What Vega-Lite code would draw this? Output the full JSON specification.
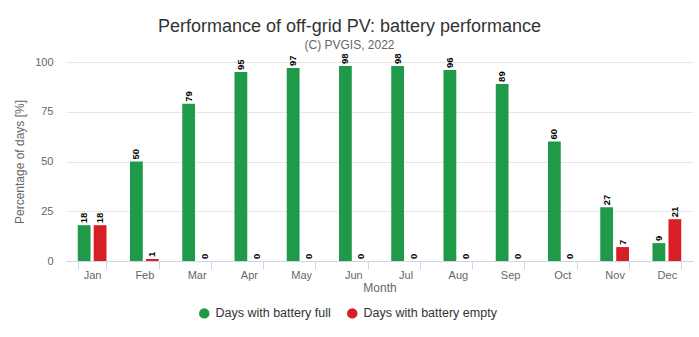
{
  "$schema": "https://vega.github.io/schema/vega-lite/v6.json",
  "width": 627,
  "height": 199,
  "autosize": {"type": "none"},
  "padding": {"left": 66, "top": 62, "right": 6, "bottom": 76},
  "background": "white",
  "config": {
    "view": {"stroke": null},
    "font": "Liberation Sans"
  },
  "title": {
    "text": "Performance of off-grid PV: battery performance",
    "subtitle": "(C) PVGIS, 2022",
    "fontSize": 18,
    "fontWeight": "normal",
    "color": "#333333",
    "subtitleFontSize": 12,
    "subtitleColor": "#666666",
    "subtitlePadding": 4,
    "anchor": "middle",
    "dx": -30,
    "offset": 2
  },
  "data": {
    "values": [
      {"month": "Jan", "series": "Days with battery full", "value": 18},
      {"month": "Feb", "series": "Days with battery full", "value": 50},
      {"month": "Mar", "series": "Days with battery full", "value": 79},
      {"month": "Apr", "series": "Days with battery full", "value": 95},
      {"month": "May", "series": "Days with battery full", "value": 97},
      {"month": "Jun", "series": "Days with battery full", "value": 98},
      {"month": "Jul", "series": "Days with battery full", "value": 98},
      {"month": "Aug", "series": "Days with battery full", "value": 96},
      {"month": "Sep", "series": "Days with battery full", "value": 89},
      {"month": "Oct", "series": "Days with battery full", "value": 60},
      {"month": "Nov", "series": "Days with battery full", "value": 27},
      {"month": "Dec", "series": "Days with battery full", "value": 9},
      {"month": "Jan", "series": "Days with battery empty", "value": 18},
      {"month": "Feb", "series": "Days with battery empty", "value": 1},
      {"month": "Mar", "series": "Days with battery empty", "value": 0},
      {"month": "Apr", "series": "Days with battery empty", "value": 0},
      {"month": "May", "series": "Days with battery empty", "value": 0},
      {"month": "Jun", "series": "Days with battery empty", "value": 0},
      {"month": "Jul", "series": "Days with battery empty", "value": 0},
      {"month": "Aug", "series": "Days with battery empty", "value": 0},
      {"month": "Sep", "series": "Days with battery empty", "value": 0},
      {"month": "Oct", "series": "Days with battery empty", "value": 0},
      {"month": "Nov", "series": "Days with battery empty", "value": 7},
      {"month": "Dec", "series": "Days with battery empty", "value": 21}
    ]
  },
  "encoding": {
    "x": {
      "field": "month",
      "type": "nominal",
      "sort": ["Jan","Feb","Mar","Apr","May","Jun","Jul","Aug","Sep","Oct","Nov","Dec"],
      "scale": {"paddingInner": 0.45, "paddingOuter": 0.225},
      "axis": {
        "title": "Month",
        "titleColor": "#666666",
        "titleFontSize": 12,
        "titleFontWeight": "normal",
        "titlePadding": 2,
        "labelAngle": 0,
        "labelColor": "#666666",
        "labelFontSize": 11,
        "labelPadding": 0,
        "domainColor": "#ccd6eb",
        "tickColor": "#ccd6eb",
        "tickSize": 8,
        "tickBand": "extent"
      }
    },
    "xOffset": {
      "field": "series",
      "type": "nominal",
      "sort": ["Days with battery full", "Days with battery empty"],
      "scale": {"paddingInner": 0.2}
    },
    "y": {
      "field": "value",
      "type": "quantitative",
      "scale": {"domain": [0, 100], "nice": false},
      "axis": {
        "title": "Percentage of days [%]",
        "titleColor": "#666666",
        "titleFontSize": 12,
        "titleFontWeight": "normal",
        "titlePadding": 8,
        "values": [0, 25, 50, 75, 100],
        "labelColor": "#666666",
        "labelFontSize": 11,
        "labelPadding": 13,
        "domain": false,
        "ticks": false,
        "gridColor": "#e6e6e6"
      }
    }
  },
  "layer": [
    {
      "mark": {"type": "bar"},
      "encoding": {
        "color": {
          "field": "series",
          "type": "nominal",
          "sort": ["Days with battery full", "Days with battery empty"],
          "scale": {"domain": ["Days with battery full", "Days with battery empty"], "range": ["#1f9a48", "#d91e25"]},
          "legend": {
            "title": null,
            "orient": "none",
            "direction": "horizontal",
            "legendX": 132,
            "legendY": 245,
            "symbolType": "circle",
            "symbolSize": 110,
            "symbolStrokeWidth": 0,
            "labelFontSize": 12.5,
            "labelColor": "#333333",
            "columnPadding": 15,
            "labelOffset": 5
          }
        }
      }
    },
    {
      "mark": {"type": "text", "angle": 270, "align": "left", "baseline": "middle", "dx": 2, "fontSize": 9.5, "fontWeight": "bold", "color": "#000000"},
      "encoding": {
        "text": {"field": "value", "type": "quantitative"}
      }
    }
  ]
}
